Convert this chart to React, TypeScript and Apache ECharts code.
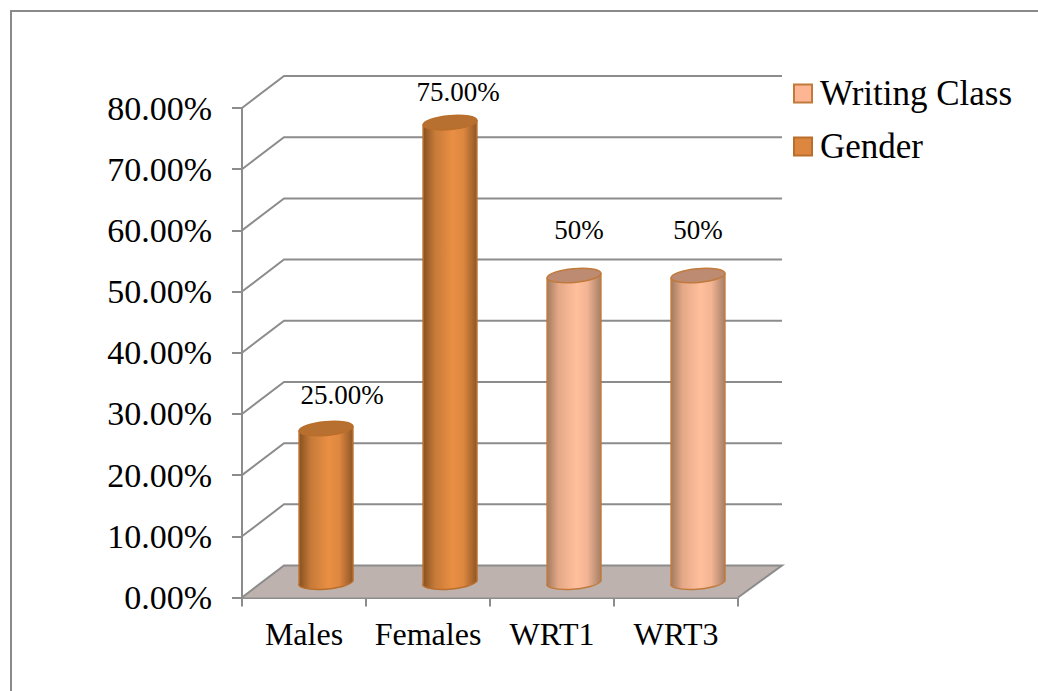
import React, { useEffect, useRef } from "react";
import * as echarts from "echarts";

const categories = ["Males", "Females", "WRT1", "WRT3"];
const genderValues = [25, 75, null, null];
const writingValues = [null, null, 50, 50];
const genderLabels = ["25.00%", "75.00%", "", ""];
const writingLabels = ["", "", "50%", "50%"];
const wallTicks = [10, 20, 30, 40, 50, 60, 70, 80];
const legendNames = ["Writing Class", "Gender"];

// layout constants
const labelOffsets = [[16, -34], [8, -31], [5, -46], [0, -46]];
const DEPTH_X = 42;
const DEPTH_Y = -32;
const GREY = "#8c8c8c";
const FONT = "'Liberation Serif', 'Times New Roman', serif";
const RX = 27;
const RY = 6.9;
const TILT = -5;

const orangeSkin = {
  stops: ["#85501f", "#c67a38", "#ea8f44", "#dd8740", "#8f5624"],
  stroke: "#b96e2c",
  top: "#b7702f",
  swatch: "#dd8640",
};
const peachSkin = {
  stops: ["#a27a60", "#e5a988", "#ffbf9c", "#f2b493", "#a67f66"],
  stroke: "#c17a3c",
  top: "#bd8b72",
  swatch: "#fdb594",
};

function ellipsePoint(cx: number, cy: number, side: number) {
  const t = (TILT * Math.PI) / 180;
  return [cx + side * RX * Math.cos(t), cy + side * RX * Math.sin(t)];
}

function makeCylinder(labels: string[], skin: typeof orangeSkin) {
  return (_params: any, api: any) => {
    const idx = api.value(0);
    const val = api.value(1);
    const base = api.coord([idx, 0]);
    const top = api.coord([idx, val]);
    const cx = base[0] + DEPTH_X / 2 + 1;
    const by = base[1] + DEPTH_Y / 2 - 0.5;
    const ty = top[1] + DEPTH_Y / 2;
    const [tlx, tly] = ellipsePoint(cx, ty, -1);
    const [trx, try_] = ellipsePoint(cx, ty, 1);
    const [blx, bly] = ellipsePoint(cx, by, -1);
    const [brx, bry] = ellipsePoint(cx, by, 1);
    const body = `M ${tlx} ${tly} L ${blx} ${bly} A ${RX} ${RY} ${TILT} 0 0 ${brx} ${bry} L ${trx} ${try_} Z`;
    const n = skin.stops.length - 1;
    const offset = labelOffsets[idx];
    return {
      type: "group",
      children: [
        {
          type: "path",
          shape: { pathData: body },
          style: {
            fill: new echarts.graphic.LinearGradient(0, 0, 1, 0, [
              { offset: 0, color: skin.stops[0] },
              { offset: 0.22, color: skin.stops[1] },
              { offset: 0.55, color: skin.stops[2] },
              { offset: 0.75, color: skin.stops[3] },
              { offset: 1, color: skin.stops[n] },
            ]),
            stroke: skin.stroke,
            lineWidth: 1.5,
            lineJoin: "round",
          },
        },
        {
          type: "ellipse",
          x: cx,
          y: ty,
          rotation: (-TILT * Math.PI) / 180,
          shape: { cx: 0, cy: 0, rx: RX, ry: RY },
          style: { fill: skin.top, stroke: skin.stroke, lineWidth: 1.5 },
        },
        {
          type: "text",
          x: cx + offset[0],
          y: ty + offset[1],
          style: {
            text: labels[idx],
            font: `27px ${FONT}`,
            fill: "#000",
            align: "center",
            verticalAlign: "middle",
          },
        },
      ],
    };
  };
}

function renderFloor(params: any) {
  const cs = params.coordSys;
  const l = cs.x;
  const r = cs.x + cs.width;
  const b = cs.y + cs.height;
  return {
    type: "group",
    children: [
      {
        type: "polygon",
        shape: {
          points: [
            [l, b],
            [r, b],
            [r + DEPTH_X + 2, b + DEPTH_Y],
            [l + DEPTH_X, b + DEPTH_Y],
          ],
        },
        style: { fill: "#bdb2ad", stroke: "none" },
      },
      {
        type: "polyline",
        shape: {
          points: [
            [l, b],
            [l + DEPTH_X, b + DEPTH_Y],
            [r + DEPTH_X + 2, b + DEPTH_Y],
            [r, b],
          ],
        },
        style: { fill: "none", stroke: GREY, lineWidth: 2 },
      },
    ],
  };
}

function renderWall(params: any, api: any) {
  const cs = params.coordSys;
  const p = api.coord([0, api.value(0)]);
  const y = p[1];
  return {
    type: "polyline",
    shape: {
      points: [
        [cs.x, y],
        [cs.x + DEPTH_X, y + DEPTH_Y],
        [cs.x + cs.width + DEPTH_X + 2, y + DEPTH_Y],
      ],
    },
    style: { fill: "none", stroke: GREY, lineWidth: 2 },
  };
}

function keep(values: (number | null)[]) {
  return values.map((v, i) => (v === null ? null : [i, v])).filter(Boolean);
}

export default function App() {
  const ref = useRef<HTMLDivElement>(null);
  useEffect(() => {
    document.body.style.margin = "0";
    document.body.style.background = "#fff";
    const chart = echarts.init(ref.current!, null, { renderer: "svg" });
    chart.setOption({
      animation: false,
      backgroundColor: "#fff",
      graphic: [
        {
          type: "polyline",
          shape: { points: [[11, 691], [11, 11], [1038, 11]] },
          style: { fill: "none", stroke: "#8a8a8a", lineWidth: 2 },
          silent: true,
        },
      ],
      grid: { left: 242, top: 108, width: 496, height: 489.5 },
      legend: {
        orient: "vertical",
        left: 788,
        top: 71,
        itemWidth: 18,
        itemHeight: 18,
        itemGap: 18,
        textStyle: {
          fontFamily: FONT,
          fontSize: 35,
          color: "#000",
          padding: [0, 0, 0, 3],
        },
        data: [
          {
            name: legendNames[0],
            icon: "rect",
            itemStyle: { color: peachSkin.swatch, borderColor: peachSkin.stroke, borderWidth: 2 },
          },
          {
            name: legendNames[1],
            icon: "rect",
            itemStyle: { color: orangeSkin.swatch, borderColor: orangeSkin.stroke, borderWidth: 2 },
          },
        ],
      },
      xAxis: {
        type: "category",
        data: categories,
        axisLine: { lineStyle: { color: GREY, width: 2 } },
        axisTick: { show: true, interval: 0, alignWithLabel: false, length: 9, lineStyle: { color: GREY, width: 2 } },
        axisLabel: { interval: 0, hideOverlap: false, fontFamily: FONT, fontSize: 32, color: "#000", margin: 20 },
      },
      yAxis: {
        type: "value",
        min: 0,
        max: 80,
        interval: 10,
        splitLine: { show: false },
        axisLine: { show: true, lineStyle: { color: GREY, width: 2 } },
        axisTick: { show: true, length: 10, lineStyle: { color: GREY, width: 2 } },
        axisLabel: {
          fontFamily: FONT,
          fontSize: 34,
          color: "#000",
          margin: 30,
          formatter: (v: number) => v.toFixed(2) + "%",
        },
      },
      series: [
        {
          name: "walls",
          type: "custom",
          coordinateSystem: "cartesian2d",
          renderItem: renderWall,
          data: wallTicks.map((t) => [t]),
          encode: { y: 0 },
          clip: false,
          silent: true,
          z: 1,
        },
        {
          name: "floor",
          type: "custom",
          coordinateSystem: "cartesian2d",
          renderItem: renderFloor,
          data: [[0, 0]],
          encode: { x: 0, y: 1 },
          clip: false,
          silent: true,
          z: 1,
        },
        {
          name: legendNames[1],
          type: "custom",
          coordinateSystem: "cartesian2d",
          renderItem: makeCylinder(genderLabels, orangeSkin),
          data: keep(genderValues),
          encode: { x: 0, y: 1 },
          clip: false,
          z: 3,
        },
        {
          name: legendNames[0],
          type: "custom",
          coordinateSystem: "cartesian2d",
          renderItem: makeCylinder(writingLabels, peachSkin),
          data: keep(writingValues),
          encode: { x: 0, y: 1 },
          clip: false,
          z: 3,
        },
      ],
    });
    return () => chart.dispose();
  }, []);
  return <div ref={ref} style={{ width: 1038, height: 691 }} />;
}
